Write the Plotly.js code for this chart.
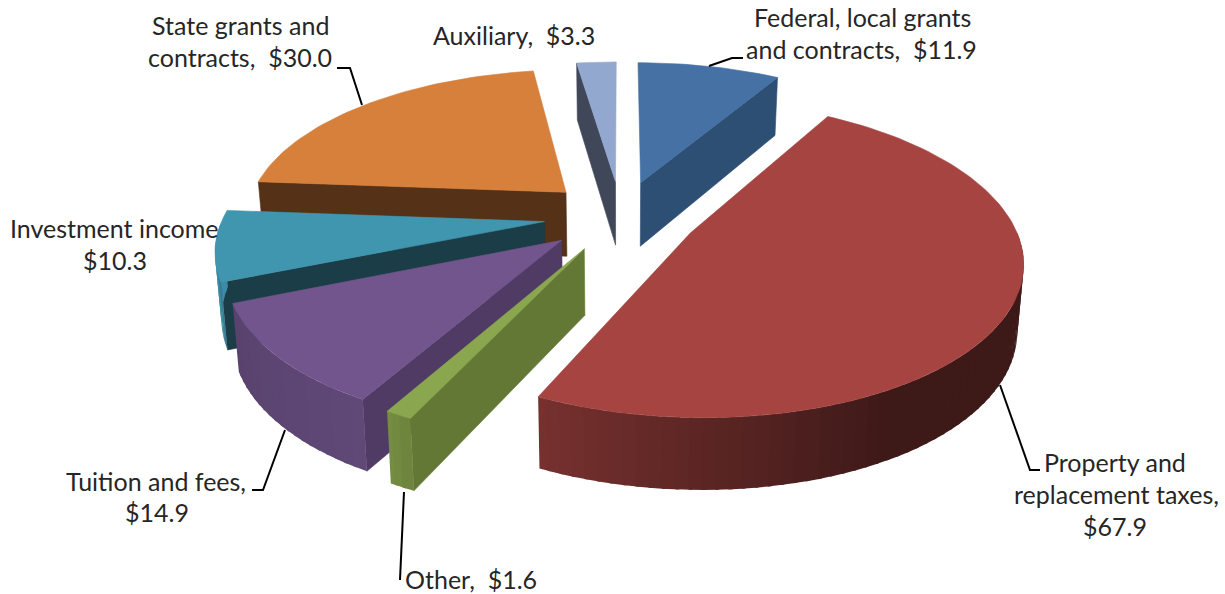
<!DOCTYPE html>
<html><head><meta charset="utf-8">
<script src="https://cdn.plot.ly/plotly-3.0.1.min.js"></script>
<style>html,body{margin:0;padding:0;background:#fff}#c{width:1225px;height:594px}</style>
</head><body><div id="c"></div>
<script>
// data
const categories = ["Federal, local grants and contracts","Property and replacement taxes","Other","Tuition and fees","Investment income","State grants and contracts","Auxiliary"];
const values = [11.9,67.9,1.6,14.9,10.3,30.0,3.3];
// style
const topColors  = ["#4571A5","#A54441","#8AA64E","#71558C","#4095AF","#D6803C","#93A8CF"];
const wallColors = ["#2D4F74","#5A2A28","#647836","#503B65","#1A3D48","#553217","#3F4759"];
const drawOrder  = [5,4,3,6,0,1,2];
// projection
const CX=621, CY=216, RX=321, RY=149, P=0.16, K=0.016, H=65, HP=0.1, EXPLODE=0.24;
const proj=(x,y,z)=>{const s=1/(1+P*y),k=1-K*z;return [CX+RX*x*s*k, CY-RY*y*s+H*z*(1-HP*y)];};
const rad=d=>d*Math.PI/180, dir=d=>[Math.sin(rad(d)),Math.cos(rad(d))];
const shadeStops=[[90,.37],[150,.37],[205,.72],[206,.8],[209,.85],[248,.78],[250,.92],[275,.95]];
function outerShade(a){
  if(a<=shadeStops[0][0])return shadeStops[0][1];
  for(let i=1;i<shadeStops.length;i++){const [a1,v1]=shadeStops[i],[a0,v0]=shadeStops[i-1];
    if(a<=a1)return v0+(v1-v0)*(a-a0)/(a1-a0);}
  return .95;
}
function scale(hex,f){const n=parseInt(hex.slice(1),16);
  return `rgb(${Math.round((n>>16)*f)},${Math.round(((n>>8)&255)*f)},${Math.round((n&255)*f)})`;}
const traces=[];
function poly(pts,color,lw){
  const x=pts.map(p=>p[0]),y=pts.map(p=>p[1]);x.push(x[0]);y.push(y[0]);
  traces.push({type:'scatter',mode:'lines',x,y,fill:'toself',fillcolor:color,line:{color,width:lw},hoverinfo:'skip',showlegend:false});
}
const total=values.reduce((a,b)=>a+b,0);
let acc=0;
const slices=values.map((v,i)=>{const a0=acc/total*360;acc+=v;return {i,a0,a1:acc/total*360};});
function drawSlice(sl){
  const {i,a0,a1}=sl, m=(a0+a1)/2, d=dir(m), A=[EXPLODE*d[0],EXPLODE*d[1]];
  const rim=a=>{const e=dir(a);return [A[0]+e[0],A[1]+e[1]];};
  const P3=(w,z)=>proj(w[0],w[1],z);
  [[a0,Math.sin(rad(a0-90)),Math.cos(rad(a0-90))],[a1,Math.sin(rad(a1+90)),Math.cos(rad(a1+90))]].forEach(([a,nx,ny])=>{
    if(ny<0){const r=rim(a);poly([P3(A,0),P3(r,0),P3(r,1),P3(A,1)],wallColors[i],.6);}
  });
  const from=Math.max(a0,90),to=Math.min(a1,270);
  if(to>from){
    const n=Math.max(1,Math.ceil((to-from)/2));
    for(let k=n-1;k>=0;k--){
      const b0=from+(to-from)*k/n,b1=from+(to-from)*(k+1)/n;
      const b1x=Math.min(to,b1+.6), r0=rim(b0),r1=rim(b1x);
      poly([P3(r0,0),P3(r1,0),P3(r1,1),P3(r0,1)],scale(topColors[i],outerShade((b0+b1)/2)),0);
    }
  }
  const pts=[P3(A,0)],n=Math.max(2,Math.ceil((a1-a0)/1.5));
  for(let k=0;k<=n;k++)pts.push(P3(rim(a0+(a1-a0)*k/n),0));
  poly(pts,topColors[i],.6);
}
drawOrder.forEach(i=>drawSlice(slices[i]));
const leaders=[
 [[1000,385],[1030,470],[1040,470]],
 [[285,430],[263,490],[252,490]],
 [[404,492],[400,580]],
 [[362,105],[350,68],[337,68]],
 [[709,66],[732,58],[743,58]]
];
leaders.forEach(l=>traces.push({type:'scatter',mode:'lines',x:l.map(p=>p[0]),y:l.map(p=>p[1]),line:{color:'#000',width:2},hoverinfo:'skip',showlegend:false}));
const labelLines=[
 ["State grants and",240,25],["contracts,  $30.0",240,57],
 ["Auxiliary,  $3.3",514,35],
 ["Federal, local grants",862,17],["and contracts,  $11.9",861,49],
 ["Investment income",114,228],["$10.3",115,260],
 ["Tuition and fees,",156,481],["$14.9",157,512],
 ["Other,  $1.6",471,579],
 ["Property and",1115,462],["replacement taxes,",1116,494],["$67.9",1115,526]
];
const annotations=labelLines.map(([text,x,y])=>({text,x,y,xref:'x',yref:'y',showarrow:false,xanchor:'center',yanchor:'middle',
  font:{family:'Lato, "Open Sans", sans-serif',size:25,color:'#262626'}}));
Plotly.newPlot('c',traces,{
  width:1225,height:594,margin:{l:0,r:0,t:0,b:0},paper_bgcolor:'#fff',plot_bgcolor:'#fff',showlegend:false,
  xaxis:{range:[0,1225],visible:false,fixedrange:true},
  yaxis:{range:[594,0],visible:false,fixedrange:true},
  annotations
},{displayModeBar:false,staticPlot:true});
</script></body></html>
